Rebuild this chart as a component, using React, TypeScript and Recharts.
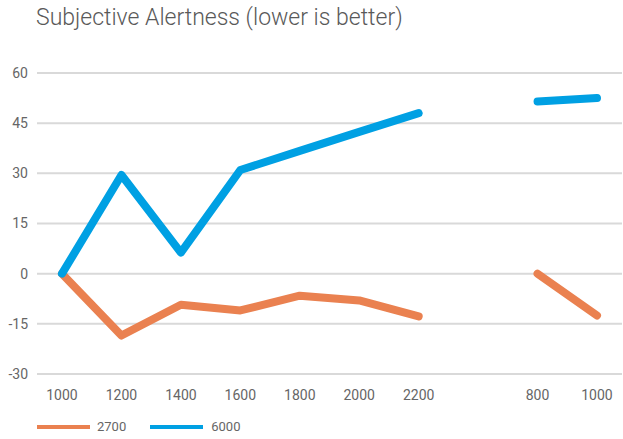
import { LineChart, Line, XAxis, YAxis, CartesianGrid } from 'recharts';

const categories = ['1000', '1200', '1400', '1600', '1800', '2000', '2200', '', '800', '1000'];
const series2700 = [0, -18.5, -9.3, -11, -6.6, -8, -12.8, null, 0, -12.5];
const series6000 = [0, 29.5, 6.3, 31, 36.7, 42.4, 48, null, 51.5, 52.5];
const yTicks = [-30, -15, 0, 15, 30, 45, 60];

const data = categories.map((name, i) => ({
    name,
    s2700: series2700[i],
    s6000: series6000[i],
}));

const font = 'Roboto, "DejaVu Sans", sans-serif';
const ORANGE = '#ea8150';
const BLUE = '#00a0e3';

export default function App() {
    return (
        <div style={{ position: 'absolute', left: 0, top: 0, width: 623, height: 439, background: '#fff', fontFamily: font }}>
            {/* Title */}
            <div
                style={{
                    position: 'absolute',
                    left: 36,
                    top: 4,
                    fontSize: 23,
                    fontWeight: 300,
                    color: '#595959',
                    whiteSpace: 'nowrap',
                }}
            >
                Subjective Alertness (lower is better)
            </div>

            <LineChart
                width={623}
                height={439}
                data={data}
                margin={{ top: 73, right: 1, left: 0, bottom: 25 }}
            >
                <CartesianGrid vertical={false} stroke="#d9d9d9" strokeWidth={2} />
                <XAxis
                    dataKey="name"
                    axisLine={false}
                    tickLine={false}
                    tickSize={0}
                    tickMargin={16}
                    height={40}
                    padding={{ left: 25, right: 25 }}
                    interval={0}
                    tick={{ fill: '#666', fontSize: 14, fontFamily: font }}
                />
                <YAxis
                    domain={[-30, 60]}
                    ticks={yTicks}
                    axisLine={false}
                    tickLine={false}
                    tickSize={0}
                    tickMargin={9}
                    width={37}
                    tick={{ fill: '#666', fontSize: 14, fontFamily: font }}
                />
                <Line
                    type="linear"
                    dataKey="s2700"
                    name="2700"
                    stroke={ORANGE}
                    strokeWidth={8}
                    strokeLinecap="round"
                    strokeLinejoin="round"
                    dot={false}
                    activeDot={false}
                    isAnimationActive={false}
                />
                <Line
                    type="linear"
                    dataKey="s6000"
                    name="6000"
                    stroke={BLUE}
                    strokeWidth={8}
                    strokeLinecap="round"
                    strokeLinejoin="round"
                    dot={false}
                    activeDot={false}
                    isAnimationActive={false}
                />
            </LineChart>

            {/* Legend */}
            <div style={{ position: 'absolute', left: 37, top: 419, display: 'flex', alignItems: 'center', fontSize: 13, color: '#666' }}>
                <span style={{ display: 'inline-block', width: 53, height: 4, background: ORANGE, marginRight: 7 }} />
                <span style={{ marginRight: 24 }}>2700</span>
                <span style={{ display: 'inline-block', width: 53, height: 4, background: BLUE, marginRight: 8 }} />
                <span>6000</span>
            </div>
        </div>
    );
}
